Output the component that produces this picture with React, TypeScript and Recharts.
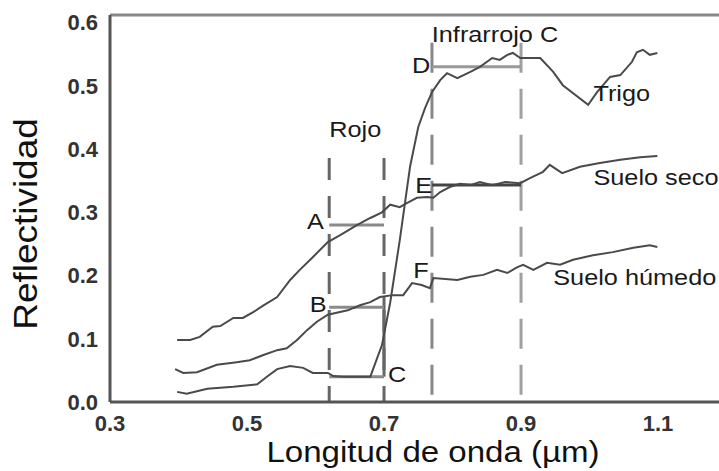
import {
  Line,
  LineChart,
  ReferenceDot,
  ReferenceLine,
  XAxis,
  YAxis,
} from "recharts";

const FONT = "'Liberation Sans', Arial, Helvetica, sans-serif";

// wavelength (µm) and reflectance
const trigoWave = [0.398, 0.412, 0.442, 0.48, 0.515, 0.529, 0.544, 0.563, 0.582, 0.596, 0.618, 0.626, 0.64, 0.665, 0.68, 0.697, 0.709, 0.723, 0.738, 0.75, 0.76, 0.77, 0.782, 0.792, 0.807, 0.826, 0.84, 0.858, 0.869, 0.88, 0.888, 0.899, 0.928, 0.947, 0.961, 0.998, 1.011, 1.03, 1.045, 1.062, 1.069, 1.078, 1.088, 1.099];
const trigoRefl = [0.016, 0.013, 0.021, 0.024, 0.028, 0.04, 0.052, 0.057, 0.054, 0.046, 0.046, 0.041, 0.04, 0.04, 0.04, 0.09, 0.157, 0.256, 0.372, 0.435, 0.465, 0.49, 0.509, 0.52, 0.512, 0.522, 0.53, 0.544, 0.541, 0.549, 0.552, 0.544, 0.544, 0.522, 0.501, 0.47, 0.49, 0.514, 0.517, 0.538, 0.553, 0.557, 0.549, 0.552];

const secoWave = [0.398, 0.417, 0.431, 0.45, 0.461, 0.48, 0.494, 0.509, 0.523, 0.544, 0.563, 0.577, 0.596, 0.618, 0.636, 0.661, 0.68, 0.697, 0.709, 0.723, 0.734, 0.748, 0.763, 0.772, 0.782, 0.796, 0.811, 0.826, 0.84, 0.858, 0.877, 0.899, 0.913, 0.932, 0.942, 0.96, 0.986, 1.015, 1.045, 1.074, 1.099];
const secoRefl = [0.098, 0.098, 0.103, 0.119, 0.12, 0.133, 0.133, 0.142, 0.152, 0.166, 0.193, 0.209, 0.229, 0.253, 0.264, 0.28, 0.291, 0.3, 0.312, 0.308, 0.315, 0.323, 0.324, 0.323, 0.332, 0.34, 0.345, 0.343, 0.348, 0.343, 0.348, 0.346, 0.354, 0.364, 0.375, 0.362, 0.372, 0.378, 0.383, 0.387, 0.389];

const humedoWave = [0.395, 0.407, 0.427, 0.456, 0.485, 0.504, 0.523, 0.544, 0.558, 0.573, 0.588, 0.602, 0.618, 0.647, 0.665, 0.68, 0.694, 0.713, 0.728, 0.741, 0.755, 0.767, 0.772, 0.807, 0.826, 0.845, 0.865, 0.88, 0.894, 0.903, 0.918, 0.938, 0.957, 0.976, 1.005, 1.034, 1.064, 1.088, 1.099];
const humedoRefl = [0.052, 0.046, 0.047, 0.059, 0.063, 0.066, 0.074, 0.082, 0.085, 0.098, 0.114, 0.127, 0.138, 0.145, 0.153, 0.158, 0.166, 0.169, 0.169, 0.188, 0.185, 0.18, 0.196, 0.193, 0.198, 0.201, 0.209, 0.204, 0.213, 0.217, 0.209, 0.22, 0.217, 0.225, 0.232, 0.237, 0.244, 0.248, 0.245];

// band limits and band averages
const redBand = [0.62, 0.7];
const nirBand = [0.77, 0.9];
const redAverages = [0.28, 0.15, 0.04]; // A, B, C
const nirAverages = [0.53, 0.343]; // D, E
const redBandTop = 0.386;
const nirBandTop = 0.568;

const xTicks = [0.3, 0.5, 0.7, 0.9, 1.1];
const yTicks = [0, 0.1, 0.2, 0.3, 0.4, 0.5, 0.6];

const labels = [
  { text: "Rojo", x: 0.658, y: 0.419 },
  { text: "Infrarrojo C", x: 0.862, y: 0.569 },
  { text: "Trigo", x: 1.047, y: 0.476 },
  { text: "Suelo seco", x: 1.097, y: 0.343 },
  { text: "Suelo húmedo", x: 1.066, y: 0.185 },
  { text: "A", x: 0.6, y: 0.274 },
  { text: "B", x: 0.604, y: 0.142 },
  { text: "C", x: 0.719, y: 0.032 },
  { text: "D", x: 0.754, y: 0.52 },
  { text: "E", x: 0.758, y: 0.33 },
  { text: "F", x: 0.754, y: 0.196 },
];

const zip = (xs: number[], ys: number[]) => xs.map((x, i) => ({ x, v: ys[i] }));

const trigo = zip(trigoWave, trigoRefl);
const seco = zip(secoWave, secoRefl);
const humedo = zip(humedoWave, humedoRefl);

const CURVE = "#4a4a4a";
const BOX = "#8a8a8a";

export default function App() {
  return (
    <div style={{ position: "absolute", left: 0, top: 0, background: "#fff" }}>
      <LineChart width={719} height={471} margin={{ top: 15, right: 0, bottom: 39, left: 50 }}>
        <XAxis
          type="number"
          dataKey="x"
          domain={[0.3, 1.189]}
          ticks={xTicks}
          allowDataOverflow
          tickFormatter={(v: number) => v.toFixed(1)}
          axisLine={{ stroke: "#555", strokeWidth: 3 }}
          tickLine={false}
          tickMargin={7}
          height={30}
          tick={{ fontSize: 22, fill: "#333", fontWeight: "bold", fontFamily: FONT }}
          label={{
            content: () => (
              <text
                transform="translate(433,462) scale(1.14,1)"
                textAnchor="middle"
                fontSize={29}
                fontFamily={FONT}
                fill="#111"
              >
                Longitud de onda (µm)
              </text>
            ),
          }}
        />
        <YAxis
          type="number"
          domain={[0, 0.612]}
          ticks={yTicks}
          allowDataOverflow
          tickFormatter={(v: number) => v.toFixed(1)}
          axisLine={{ stroke: "#555", strokeWidth: 3 }}
          tickLine={false}
          tickMargin={6}
          width={60}
          tick={{ fontSize: 22, fill: "#333", fontWeight: "bold", fontFamily: FONT }}
          label={{
            content: () => (
              <text
                transform="translate(37,224) rotate(-90) scale(1.12,1)"
                textAnchor="middle"
                fontSize={33}
                fontFamily={FONT}
                fill="#111"
              >
                Reflectividad
              </text>
            ),
          }}
        />

        <ReferenceLine y={0.612} stroke="#888" strokeWidth={3} />

        {redBand.map((b) => (
          <ReferenceLine
            key={`r${b}`}
            segment={[{ x: b, y: redBandTop }, { x: b, y: 0 }]}
            stroke="#666"
            strokeWidth={3}
            strokeDasharray="22 16"
          />
        ))}
        {/* right side of the red-band box, solid between C and B */}
        <ReferenceLine
          segment={[{ x: redBand[1], y: redAverages[2] }, { x: redBand[1], y: 0.166 }]}
          stroke="#666"
          strokeWidth={3}
        />
        {nirBand.map((b, i) => (
          <ReferenceLine
            key={`n${b}`}
            segment={[{ x: b, y: nirBandTop }, { x: b, y: 0 }]}
            stroke={i === 0 ? "#888" : "#a0a0a0"}
            strokeWidth={3}
            strokeDasharray="30 16"
          />
        ))}
        {redAverages.map((v) => (
          <ReferenceLine
            key={`ra${v}`}
            segment={[{ x: redBand[0], y: v }, { x: redBand[1], y: v }]}
            stroke={BOX}
            strokeWidth={3}
          />
        ))}
        {nirAverages.map((v, i) => (
          <ReferenceLine
            key={`na${v}`}
            segment={[{ x: nirBand[0], y: v }, { x: nirBand[1], y: v }]}
            stroke={i === 0 ? "#999" : "#444"}
            strokeWidth={3}
          />
        ))}

        <Line data={trigo} dataKey="v" type="linear" stroke={CURVE} strokeWidth={2} dot={false} isAnimationActive={false} />
        <Line data={seco} dataKey="v" type="linear" stroke={CURVE} strokeWidth={2} dot={false} isAnimationActive={false} />
        <Line data={humedo} dataKey="v" type="linear" stroke={CURVE} strokeWidth={2} dot={false} isAnimationActive={false} />

        {labels.map((l) => (
          <ReferenceDot
            key={l.text}
            x={l.x}
            y={l.y}
            r={0}
            ifOverflow="visible"
            shape={(p: any) => (
              <text
                transform={`translate(${p.cx},${p.cy}) scale(1.15,1)`}
                textAnchor="middle"
                fontSize={22}
                fontFamily={FONT}
                fill="#1a1a1a"
              >
                {l.text}
              </text>
            )}
          />
        ))}
      </LineChart>
    </div>
  );
}
